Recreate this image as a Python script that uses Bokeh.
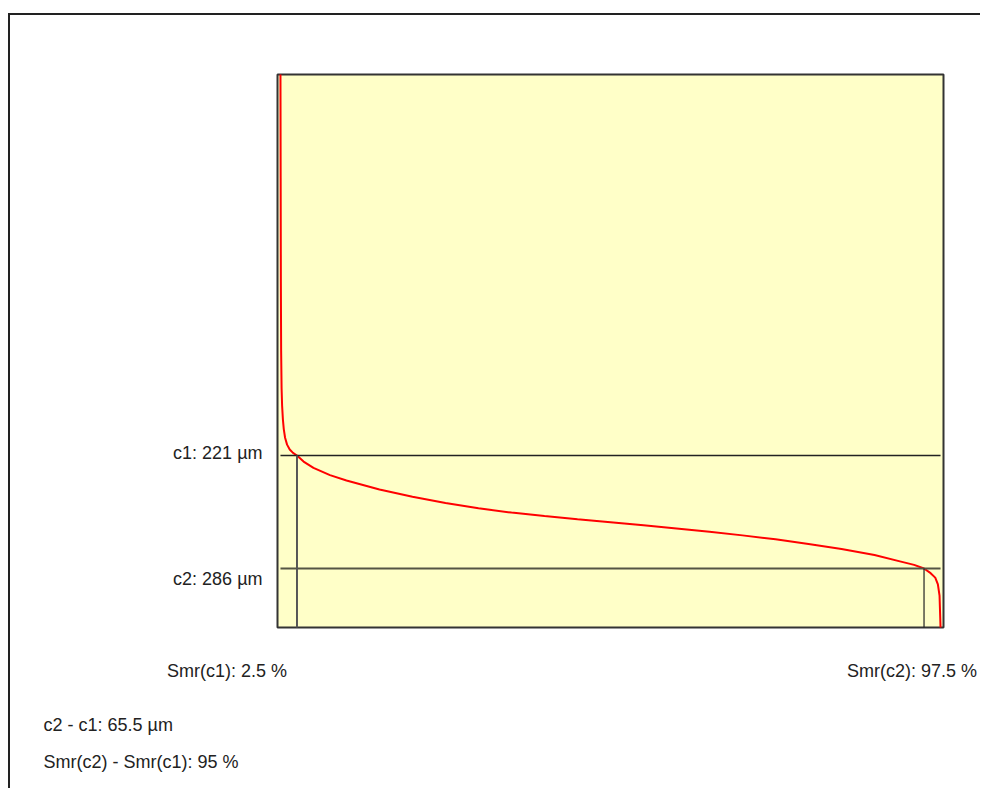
from bokeh.plotting import figure
from bokeh.models import Range1d, Label
from bokeh.embed import file_html
from bokeh.resources import INLINE

# Abbott-Firestone (material ratio) curve: Smr [%] vs depth [µm]
smr = [0.0, 0.03, 0.06, 0.1, 0.17, 0.25, 0.37, 0.5, 0.7, 1.0, 1.4, 1.9, 2.5, 3.5,
       5.0, 7.5, 10.0, 15.0, 20.0, 25.0, 30.0, 35.0, 40.0, 45.0, 50.0, 55.0,
       60.0, 65.0, 70.0, 75.0, 80.0, 85.0, 90.0, 94.0, 96.0, 97.5, 98.5, 99.2,
       99.6, 99.85, 100.0]
depth = [0.0, 60.0, 120.0, 160.0, 182.0, 192.0, 200.0, 205.5, 210.5, 214.5, 217.3,
         219.3, 220.8, 224.3, 228.0, 232.2, 235.3, 240.5, 244.7, 248.3, 251.4,
         253.9, 255.9, 257.8, 259.5, 261.2, 263.1, 265.0, 267.1, 269.4, 272.1,
         275.0, 278.5, 282.3, 284.2, 286.3, 289.0, 291.6, 295.5, 302.0, 320.5]

c_levels = [220.8, 286.3]          # c1, c2 [µm]
smr_levels = [2.5, 97.5]           # Smr(c1), Smr(c2) [%]
c_texts = ["c1: 221 µm", "c2: 286 µm"]
smr_texts = ["Smr(c1): 2.5 %", "Smr(c2): 97.5 %"]
summary_texts = ["c2 - c1: 65.5 µm", "Smr(c2) - Smr(c1): 95 %"]

FONT = "Liberation Sans"
FSIZE = "18px"
TCOL = "#222222"

# plot-area extent in data units
x_lo, x_hi = -0.45, 100.45
d_top, d_bot = -0.06, 320.5

# canvas and plot-area margins (px)
W, H = 972, 775
ML, MR, MT, MB = 267, 39, 59, 163
sx = (x_hi - x_lo) / (W - ML - MR)
sy = (d_bot - d_top) / (H - MT - MB)

p = figure(width=W, height=H, output_backend="svg", toolbar_location=None,
           x_range=Range1d(x_lo - ML * sx, x_hi + MR * sx),
           y_range=Range1d(d_bot + MB * sy, d_top - MT * sy),
           min_border=0, min_border_left=0, min_border_right=0,
           min_border_top=0, min_border_bottom=0)
p.xaxis.visible = False
p.yaxis.visible = False
p.grid.visible = False
p.background_fill_color = "white"
p.border_fill_color = "white"
p.outline_line_color = None
p.styles = {"margin-top": "13px", "margin-left": "8px",
            "border-top": "2px solid #222222", "border-left": "2px solid #222222"}

# plot area
p.quad(left=[x_lo], right=[x_hi], top=[d_top], bottom=[d_bot],
       fill_color="#FFFFC8", line_color="#333333", line_width=2)

# curve
p.line(smr, depth, line_color="#FF0000", line_width=2)

# horizontal level lines over the full Smr span
x0 = min(smr)
x1 = max(smr)
p.segment(x0=[x0], y0=[c_levels[0]], x1=[x1], y1=[c_levels[0]],
          line_color="#222222", line_width=1.6)
p.segment(x0=[x0], y0=[c_levels[1]], x1=[x1], y1=[c_levels[1]],
          line_color="#555544", line_width=2.2)
# vertical lines down to the bottom
p.segment(x0=[smr_levels[0]], y0=[c_levels[0]], x1=[smr_levels[0]], y1=[d_bot],
          line_color="#555555", line_width=2)
p.segment(x0=[smr_levels[1]], y0=[c_levels[1]], x1=[smr_levels[1]], y1=[d_bot],
          line_color="#222222", line_width=1.2)

def lab(x, y, text, align, xo, yo):
    p.add_layout(Label(x=x, y=y, text=text, text_align=align, text_baseline="middle",
                       x_offset=xo, y_offset=yo, text_font=FONT,
                       text_font_size=FSIZE, text_color=TCOL))

lab(x_lo, c_levels[0], c_texts[0], "right", -15, 3)
lab(x_lo, c_levels[1], c_texts[1], "right", -15, -10)
lab(smr_levels[0], d_bot, smr_texts[0], "center", -70, -43)
lab(smr_levels[1], d_bot, smr_texts[1], "center", -12, -43)
lab(x_lo, d_bot, summary_texts[0], "left", -234, -97)
lab(x_lo, d_bot, summary_texts[1], "left", -234, -134)

open("out.html", "w").write(file_html(p, INLINE))
